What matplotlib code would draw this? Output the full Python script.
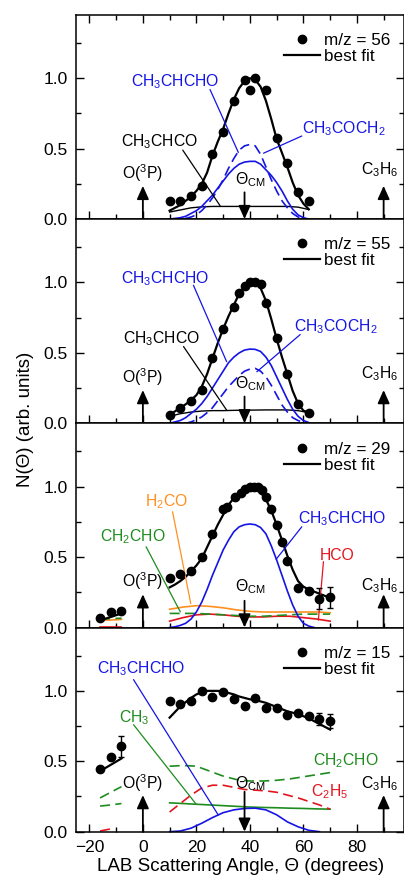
import numpy as np
import matplotlib
matplotlib.use("Agg")
import matplotlib.pyplot as plt
from matplotlib.ticker import MultipleLocator, FormatStrFormatter
from matplotlib.lines import Line2D

plt.rcParams['font.family'] = ['Liberation Sans', 'DejaVu Sans']
plt.rcParams['mathtext.fontset'] = 'custom'
plt.rcParams['mathtext.rm'] = 'Liberation Sans'
plt.rcParams['mathtext.it'] = 'Liberation Sans:italic'
plt.rcParams['mathtext.bf'] = 'Liberation Sans:bold'

BLUE = '#1414e6'
GREEN = '#1e8c1e'
RED = '#e3141e'
ORANGE = '#ff8f1f'

# ---------------- data ----------------
th2 = np.arange(10, 63, 2)          # 10..62
th4 = np.arange(10, 63, 4)          # 10..62
th2w = np.arange(10, 71, 2)         # 10..70
th5 = np.arange(10, 71, 5)          # 10..70
thL = [-16, -12, -8]

# m/z = 56
x56 = [10, 14, 18, 22, 26, 30, 34, 38, 40, 42, 46, 50, 54, 58, 62]
y56 = [0.125, 0.125, 0.165, 0.235, 0.465, 0.62, 0.84, 0.99, 0.92, 1.0, 0.92,
       0.575, 0.395, 0.19, 0.125]
fit56 = [0.06, 0.08, 0.10, 0.13, 0.16, 0.20, 0.25, 0.33, 0.45, 0.55, 0.64, 0.75,
         0.85, 0.93, 0.98, 1.0, 0.99, 0.94, 0.84, 0.71, 0.57, 0.47, 0.37, 0.26,
         0.17, 0.11, 0.07]
cchcho56 = [0, 0.005, 0.01, 0.02, 0.04, 0.06, 0.09, 0.13, 0.17, 0.22, 0.27, 0.32,
            0.36, 0.39, 0.405, 0.41, 0.41, 0.39, 0.35, 0.31, 0.26, 0.2, 0.13, 0.07,
            0.03, 0.01, 0.0]
ccoch56 = [0, 0, 0, 0.005, 0.015, 0.03, 0.06, 0.1, 0.15, 0.21, 0.28, 0.36, 0.43,
           0.49, 0.52, 0.53, 0.52, 0.46, 0.37, 0.28, 0.2, 0.13, 0.08, 0.04, 0.015,
           0.0, 0.0]
chco56 = [0.05, 0.065, 0.08, 0.087, 0.09, 0.09, 0.09, 0.09, 0.09, 0.09, 0.09, 0.09,
          0.085, 0.068]

# m/z = 55
x55 = [10, 14, 18, 22, 26, 30, 34, 36, 38, 40, 42, 44, 46, 50, 54, 58, 62]
y55 = [0.06, 0.11, 0.158, 0.235, 0.462, 0.672, 0.828, 0.923, 0.976, 1.0, 1.0,
       0.988, 0.856, 0.605, 0.35, 0.134, 0.072]
fit55 = [0.06, 0.085, 0.11, 0.135, 0.165, 0.2, 0.26, 0.35, 0.46, 0.57, 0.67, 0.76,
         0.84, 0.92, 0.97, 0.995, 0.995, 0.96, 0.87, 0.74, 0.6, 0.47, 0.35, 0.23,
         0.14, 0.09, 0.075]
cchcho55 = [0, 0.01, 0.02, 0.04, 0.07, 0.1, 0.14, 0.19, 0.25, 0.31, 0.37, 0.43,
            0.47, 0.5, 0.52, 0.527, 0.525, 0.51, 0.47, 0.41, 0.33, 0.25, 0.17, 0.1,
            0.05, 0.02, 0.005]
ccoch55 = [0, 0, 0, 0, 0.01, 0.025, 0.045, 0.075, 0.11, 0.16, 0.21, 0.26, 0.3,
           0.34, 0.37, 0.385, 0.39, 0.37, 0.33, 0.27, 0.2, 0.13, 0.08, 0.04, 0.02,
           0.005, 0]
chco55 = [0.05, 0.068, 0.08, 0.087, 0.09, 0.09, 0.092, 0.093, 0.094, 0.095, 0.095,
          0.095, 0.09, 0.075]

# m/z = 29
y29L = [0.064, 0.107, 0.116]
x29 = [10, 14, 18, 22, 26, 30, 31.5, 34.5, 36.5, 38, 40, 41.5, 43, 44.5, 46, 48,
       50, 52, 54, 58, 62, 66, 70]
y29 = [0.35, 0.38, 0.40, 0.50, 0.665, 0.84, 0.855, 0.93, 0.955, 0.98, 0.995, 1.0,
       0.995, 0.975, 0.925, 0.84, 0.73, 0.61, 0.47, 0.28, 0.26, 0.205, 0.215]
e29 = [0, 0, 0, 0, 0, 0, 0, 0, 0, 0, 0, 0, 0, 0, 0, 0, 0, 0, 0, 0, 0, 0.075, 0.075]
fit29L = [0.05, 0.075, 0.1]
h2co29L = [0.05, 0.053, 0.057]
ch2cho29L = [0.06, 0.063, 0.066]
hco29L = [0.004, 0.004, 0.004]
fit29 = [0.285, 0.305, 0.33, 0.36, 0.4, 0.44, 0.49, 0.57, 0.65, 0.73,
         0.8, 0.87, 0.92, 0.96, 0.985, 0.995, 0.99, 0.96, 0.91, 0.83,
         0.73, 0.62, 0.51, 0.41, 0.33, 0.29, 0.27, 0.255, 0.24, 0.225, 0.21]
th29b = np.arange(10, 65, 2)
cchcho29 = [0, 0.005, 0.015, 0.03, 0.06, 0.11, 0.18, 0.27, 0.37, 0.46,
            0.55, 0.62, 0.68, 0.715, 0.73, 0.735, 0.73, 0.71, 0.665, 0.58,
            0.48, 0.37, 0.26, 0.16, 0.08, 0.03, 0.01, 0.0]
h2co29 = [0.13, 0.145, 0.155, 0.15, 0.14, 0.125, 0.115, 0.11, 0.11, 0.11, 0.11,
          0.11, 0.105]
ch2cho29 = [0.1, 0.1, 0.1, 0.095, 0.09, 0.085, 0.08, 0.08, 0.085, 0.09, 0.095,
            0.095, 0.095]
hco29 = [0.045, 0.07, 0.09, 0.095, 0.09, 0.08, 0.075, 0.075, 0.08, 0.08, 0.07,
         0.06, 0.045]

# m/z = 15
y15L = [0.445, 0.528, 0.608]
e15L = [0, 0, 0.075]
x15 = [10, 14, 18, 22, 26, 30, 34, 38, 42, 46, 50, 54, 58, 62, 66, 70]
y15 = [0.929, 0.906, 0.929, 1.0, 0.953, 0.993, 0.939, 0.891, 0.946, 0.875, 0.875,
       0.828, 0.844, 0.82, 0.8, 0.785]
e15 = [0, 0, 0, 0, 0, 0, 0, 0, 0, 0, 0, 0, 0, 0, 0.045, 0.05]
fit15L = [0.43, 0.475, 0.52]
fit15 = [0.81, 0.85, 0.89, 0.92, 0.95, 0.975, 0.99, 1.0, 1.0, 1.0,
         0.995, 0.985, 0.975, 0.96, 0.95, 0.94, 0.935, 0.925, 0.915, 0.9,
         0.885, 0.87, 0.855, 0.845, 0.835, 0.82, 0.805, 0.785, 0.765, 0.745, 0.725]
ch2cho15L = [0.24, 0.28, 0.32]
ch2cho15 = [0.465, 0.47, 0.465, 0.43, 0.395, 0.37, 0.36, 0.36, 0.365, 0.375, 0.39,
            0.405, 0.42]
ch3_15L = [0.182, 0.19, 0.2]
ch3_15 = [0.205, 0.2, 0.195, 0.19, 0.185, 0.18, 0.175, 0.172, 0.17, 0.167, 0.165,
          0.162, 0.16]
th4w = np.arange(10, 71, 4)
c2h5_15 = [0.14, 0.2, 0.26, 0.31, 0.33, 0.33, 0.315, 0.3, 0.295, 0.29, 0.28, 0.26,
           0.24, 0.215, 0.19, 0.16]
c2h5_15L = [0.005, 0.02]
th4b = np.arange(10, 67, 4)
cchcho15 = [0, 0.005, 0.025, 0.06, 0.1, 0.135, 0.155, 0.165, 0.167, 0.155, 0.12,
            0.07, 0.035, 0.01, 0.0]

mz_labels = ['m/z = 56', 'm/z = 55', 'm/z = 29', 'm/z = 15']

# ---------------- figure ----------------
W, H = 404, 883
fig = plt.figure(figsize=(W / 100, H / 100), dpi=100)
left = 76 / W
width = 328.5 / W
ph = 204.2 / H
bot0 = 51.3 / H
axes = []
for i in range(4):
    ax = fig.add_axes([left, bot0 + (3 - i) * ph, width, ph])
    axes.append(ax)

FS = 11.3
DASH = (6, 3.2)
LW_FIT = 1.6
LW_C = 1.2


def style(ax, i):
    ax.set_xlim(-25, 97.8)
    ax.set_ylim(0, 1.45)
    ax.xaxis.set_major_locator(MultipleLocator(20))
    ax.xaxis.set_minor_locator(MultipleLocator(10))
    ax.yaxis.set_major_locator(MultipleLocator(0.5))
    ax.yaxis.set_minor_locator(MultipleLocator(0.25))
    ax.yaxis.set_major_formatter(FormatStrFormatter('%.1f'))
    ax.tick_params(which='both', direction='in', right=True, top=(i == 0),
                   width=1.0, labelsize=12.5)
    ax.tick_params(which='major', length=5.5, pad=6)
    ax.tick_params(which='minor', length=3.5)
    if i < 3:
        ax.tick_params(labelbottom=False)
    for s in ax.spines.values():
        s.set_linewidth(1.1)
    ax.legend(handles=[Line2D([], [], ls='none', marker='o', color='k', ms=6),
                       Line2D([], [], color='k', lw=LW_FIT)],
              labels=[mz_labels[i], 'best fit'], loc='upper left',
              bbox_to_anchor=(0.633, 0.91), frameon=False, fontsize=12.3,
              handlelength=2.1, handletextpad=0.25, labelspacing=0.05,
              borderpad=0, borderaxespad=0)


def pointer(ax, p0, p1, c):
    ax.annotate('', xy=p1, xytext=p0,
                arrowprops=dict(arrowstyle='-', color=c, lw=0.9,
                                shrinkA=0, shrinkB=0))


def arrows(ax, ytop_o, ytop_c, ytop_cm, y_o_txt, y_c_txt, y_cm_txt):
    ap = dict(arrowstyle='-|>,head_length=0.8,head_width=0.36', color='k',
              lw=1.3, shrinkA=0, shrinkB=0, mutation_scale=10)
    ax.annotate('', xy=(0, ytop_o), xytext=(0, 0), arrowprops=ap)
    ax.annotate('', xy=(90, ytop_c), xytext=(90, 0), arrowprops=ap)
    ax.annotate('', xy=(38, 0), xytext=(38, ytop_cm), arrowprops=ap)
    ax.text(0, y_o_txt, r'O($^3$P)', ha='center', va='baseline', fontsize=FS)
    ax.text(88.5, y_c_txt, r'C$_3$H$_6$', ha='center', va='baseline', fontsize=FS)
    ax.text(34.5, y_cm_txt, r'Θ$_{\mathrm{CM}}$', ha='left', va='baseline',
            fontsize=FS)


def mk(ax, x, y, yerr=None):
    if yerr is None:
        ax.plot(x, y, 'o', color='k', ms=6, zorder=5)
    else:
        ax.errorbar(x, y, yerr=yerr, fmt='o', color='k', ms=6, elinewidth=1.0,
                    capsize=2, capthick=1.0, zorder=5)


# ---- panel 1: m/z = 56 ----
ax = axes[0]
style(ax, 0)
ax.plot(th4, chco56, color='k', lw=1.0)
ax.plot(th2, cchcho56, color=BLUE, lw=LW_C)
ax.plot(th2, ccoch56, color=BLUE, lw=LW_C, dashes=DASH)
ax.plot(th2, fit56, color='k', lw=LW_FIT)
mk(ax, x56, y56)
ax.text(-4.5, 0.946, r'CH$_3$CHCHO', color=BLUE, fontsize=FS, va='baseline')
pointer(ax, (25.1, 0.92), (35.7, 0.473), BLUE)
ax.text(59.4, 0.608, r'CH$_3$COCH$_2$', color=BLUE, fontsize=FS, va='baseline')
pointer(ax, (59.4, 0.59), (45.1, 0.468), BLUE)
ax.text(-8.2, 0.515, r'CH$_3$CHCO', color='k', fontsize=FS, va='baseline')
pointer(ax, (14.9, 0.49), (28.9, 0.094), 'k')
arrows(ax, 0.236, 0.236, 0.19, 0.284, 0.32, 0.248)

# ---- panel 2: m/z = 55 ----
ax = axes[1]
style(ax, 1)
ax.plot(th4, chco55, color='k', lw=1.0)
ax.plot(th2, cchcho55, color=BLUE, lw=LW_C)
ax.plot(th2, ccoch55, color=BLUE, lw=LW_C, dashes=DASH)
ax.plot(th2, fit55, color='k', lw=LW_FIT)
mk(ax, x55, y55)
ax.text(-8.2, 0.995, r'CH$_3$CHCHO', color=BLUE, fontsize=FS, va='baseline')
pointer(ax, (18.9, 0.98), (31.3, 0.438), BLUE)
ax.text(56.5, 0.653, r'CH$_3$COCH$_2$', color=BLUE, fontsize=FS, va='baseline')
pointer(ax, (58.8, 0.63), (42.6, 0.366), BLUE)
ax.text(-7.5, 0.57, r'CH$_3$CHCO', color='k', fontsize=FS, va='baseline')
pointer(ax, (15.2, 0.545), (31.4, 0.091), 'k')
arrows(ax, 0.236, 0.236, 0.19, 0.284, 0.32, 0.248)

# ---- panel 3: m/z = 29 ----
ax = axes[2]
style(ax, 2)
ax.plot(thL, h2co29L, color=ORANGE, lw=LW_C)
ax.plot(thL, ch2cho29L, color=GREEN, lw=LW_C, dashes=DASH)
ax.plot(thL, hco29L, color=RED, lw=LW_C)
ax.plot(thL, fit29L, color='k', lw=LW_FIT)
ax.plot(th5, h2co29, color=ORANGE, lw=LW_C)
ax.plot(th5, hco29, color=RED, lw=LW_C)
ax.plot(th5, ch2cho29, color=GREEN, lw=LW_C, dashes=DASH)
ax.plot(th29b, cchcho29, color=BLUE, lw=LW_C)
ax.plot(th2w, fit29, color='k', lw=LW_FIT)
mk(ax, thL, y29L)
mk(ax, x29, y29, e29)
ax.text(0.9, 0.858, r'H$_2$CO', color=ORANGE, fontsize=FS, va='baseline')
pointer(ax, (11.1, 0.822), (17.9, 0.17), ORANGE)
ax.text(-15.9, 0.61, r'CH$_2$CHO', color=GREEN, fontsize=FS, va='baseline')
pointer(ax, (1.2, 0.573), (14.0, 0.111), GREEN)
ax.text(57.9, 0.74, r'CH$_3$CHCHO', color=BLUE, fontsize=FS, va='baseline')
pointer(ax, (59.4, 0.715), (49.8, 0.484), BLUE)
ax.text(66.2, 0.479, 'HCO', color=RED, fontsize=FS, va='baseline')
pointer(ax, (67.5, 0.467), (65.6, 0.052), RED)
arrows(ax, 0.236, 0.236, 0.19, 0.29, 0.265, 0.26)

# ---- panel 4: m/z = 15 ----
ax = axes[3]
style(ax, 3)
ax.plot(thL, ch2cho15L, color=GREEN, lw=LW_C, dashes=DASH)
ax.plot(thL, ch3_15L, color=GREEN, lw=LW_C, dashes=DASH)
ax.plot(thL[:2], c2h5_15L, color=RED, lw=LW_C, dashes=DASH)
ax.plot(thL, fit15L, color='k', lw=LW_FIT)
ax.plot(th5, ch2cho15, color=GREEN, lw=LW_C, dashes=DASH)
ax.plot(th5, ch3_15, color=GREEN, lw=LW_C)
ax.plot(th4w, c2h5_15, color=RED, lw=LW_C, dashes=DASH)
ax.plot(th4b, cchcho15, color=BLUE, lw=LW_C)
ax.plot(th2w, fit15, color='k', lw=LW_FIT)
mk(ax, thL, y15L, e15L)
mk(ax, x15, y15, e15)
ax.text(-17.2, 1.123, r'CH$_3$CHCHO', color=BLUE, fontsize=FS, va='baseline')
pointer(ax, (-3.5, 1.08), (28.2, 0.118), BLUE)
ax.text(-9.1, 0.78, r'CH$_3$', color=GREEN, fontsize=FS, va='baseline')
pointer(ax, (-3.5, 0.76), (19.8, 0.198), GREEN)
ax.text(63.7, 0.47, r'CH$_2$CHO', color=GREEN, fontsize=FS, va='baseline')
ax.text(63.0, 0.25, r'C$_2$H$_5$', color=RED, fontsize=FS, va='baseline')
arrows(ax, 0.26, 0.26, 0.284, 0.3, 0.305, 0.31)

axes[3].set_xlabel('LAB Scattering Angle, Θ (degrees)', fontsize=13.5, labelpad=2)
fig.text(25 / W, 1 - 419 / H, 'N(Θ) (arb. units)', rotation=90, ha='center',
         va='center', fontsize=13.5)

fig.savefig('out.png', dpi=100)
